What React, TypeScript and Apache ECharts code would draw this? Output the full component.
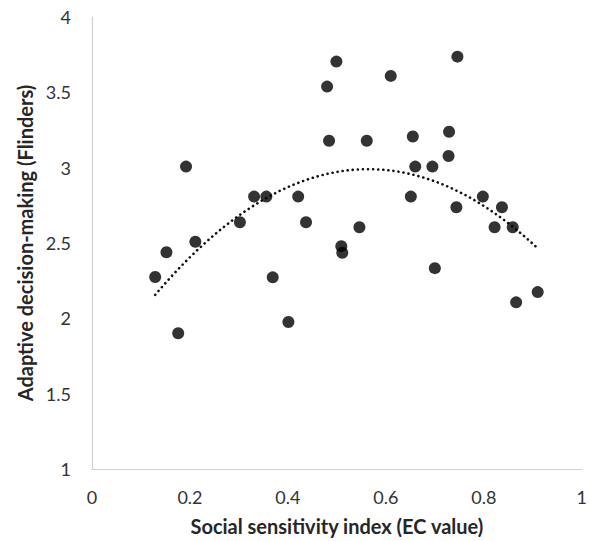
import React, { useEffect, useRef } from "react";
import * as echarts from "echarts";

// Social sensitivity index (EC value)
const ecValues: number[] = [
  0.499, 0.480, 0.484, 0.192, 0.331, 0.356, 0.421, 0.302, 0.437, 0.211, 0.152,
  0.610, 0.746, 0.561, 0.655, 0.729, 0.728, 0.660, 0.695, 0.651, 0.798, 0.744,
  0.837, 0.822, 0.859, 0.546, 0.509, 0.511,
  0.129, 0.176, 0.369, 0.401,
  0.700, 0.866, 0.910,
];
// Adaptive decision-making (Flinders)
const flinders: number[] = [
  3.704, 3.538, 3.179, 3.007, 2.808, 2.808, 2.808, 2.638, 2.638, 2.508, 2.439,
  3.609, 3.737, 3.179, 3.207, 3.238, 3.077, 3.007, 3.007, 2.808, 2.808, 2.737,
  2.737, 2.605, 2.605, 2.605, 2.479, 2.435,
  2.274, 1.901, 2.272, 1.976,
  2.333, 2.106, 2.174,
];

const xTicks = { min: 0, max: 1, interval: 0.2 };
const yTicks = { min: 1, max: 4, interval: 0.5 };

// Least-squares polynomial (order 2) trendline fitted to the scatter data
function quadFit(xs: number[], ys: number[]): [number, number, number] {
  let s0 = 0, s1 = 0, s2 = 0, s3 = 0, s4 = 0, t0 = 0, t1 = 0, t2 = 0;
  for (let i = 0; i < xs.length; i++) {
    const x = xs[i], y = ys[i];
    s0 += 1; s1 += x; s2 += x * x; s3 += x * x * x; s4 += x * x * x * x;
    t0 += y; t1 += x * y; t2 += x * x * y;
  }
  const M = [
    [s0, s1, s2, t0],
    [s1, s2, s3, t1],
    [s2, s3, s4, t2],
  ];
  for (let c = 0; c < 3; c++) {
    let p = c;
    for (let r = c + 1; r < 3; r++) if (Math.abs(M[r][c]) > Math.abs(M[p][c])) p = r;
    [M[c], M[p]] = [M[p], M[c]];
    for (let r = 0; r < 3; r++) {
      if (r === c) continue;
      const f = M[r][c] / M[c][c];
      for (let k = c; k < 4; k++) M[r][k] -= f * M[c][k];
    }
  }
  return [M[0][3] / M[0][0], M[1][3] / M[1][1], M[2][3] / M[2][2]];
}

export default function App() {
  const ref = useRef<HTMLDivElement>(null);
  useEffect(() => {
    if (!ref.current) return;
    const chart = echarts.init(ref.current, undefined, { renderer: "svg" });
    const points = ecValues.map((x, i) => [x, flinders[i]]);
    const [a0, a1, a2] = quadFit(ecValues, flinders);
    const xMin = Math.min(...ecValues);
    const xMax = Math.max(...ecValues);
    const steps = 80;
    const trend: number[][] = [];
    for (let i = 0; i <= steps; i++) {
      const x = xMin + ((xMax - xMin) * i) / steps;
      trend.push([x, a0 + a1 * x + a2 * x * x]);
    }
    const font = "Lato, 'Open Sans', sans-serif";
    chart.setOption({
      animation: false,
      backgroundColor: "#ffffff",
      grid: { left: 92, right: 7, top: 17, bottom: 71, containLabel: false },
      xAxis: {
        type: "value",
        min: xTicks.min,
        max: xTicks.max,
        interval: xTicks.interval,
        name: "Social sensitivity index (EC value)",
        nameLocation: "middle",
        nameGap: 47,
        nameTextStyle: { fontFamily: font, fontSize: 20, fontWeight: "bold", color: "#262626" },
        axisLine: { show: true, lineStyle: { color: "#d0d0d0", width: 1.2 } },
        axisTick: { show: false },
        splitLine: { show: false },
        axisLabel: {
          fontFamily: font,
          fontSize: 18,
          color: "#333333",
          margin: 19,
          formatter: (v: number) => String(Math.round(v * 10) / 10),
        },
      },
      yAxis: {
        type: "value",
        min: yTicks.min,
        max: yTicks.max,
        interval: yTicks.interval,
        name: "Adaptive decision-making (Flinders)",
        nameLocation: "middle",
        nameGap: 56,
        nameRotate: 90,
        nameTextStyle: { fontFamily: font, fontSize: 20, fontWeight: "bold", color: "#262626" },
        axisLine: { show: true, lineStyle: { color: "#d0d0d0", width: 1.2 } },
        axisTick: { show: false },
        splitLine: { show: false },
        axisLabel: {
          fontFamily: font,
          fontSize: 18,
          color: "#333333",
          margin: 21,
          formatter: (v: number) => String(Math.round(v * 10) / 10),
        },
      },
      series: [
        {
          type: "scatter",
          data: points,
          symbol: "circle",
          symbolSize: 12,
          itemStyle: { color: "#000000" },
          z: 3,
        },
        {
          type: "line",
          data: trend,
          showSymbol: false,
          symbol: "none",
          smooth: false,
          lineStyle: { color: "#111111", width: 2.6, type: [0.1, 5], cap: "round" },
          z: 2,
        },
      ],
    });
    return () => chart.dispose();
  }, []);
  return (
    <div
      ref={ref}
      style={{ position: "fixed", left: 0, top: 0, width: 590, height: 541 }}
    />
  );
}
